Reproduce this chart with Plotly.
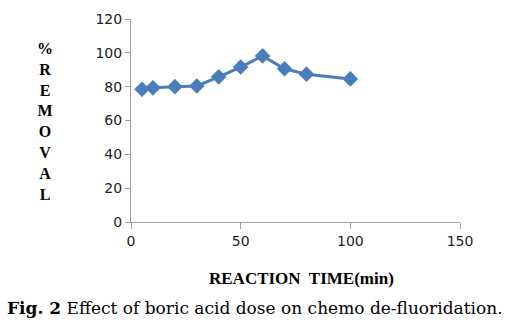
import plotly.graph_objects as go

reaction_time = [5, 10, 20, 30, 40, 50, 60, 70, 80, 100]
removal = [78.5, 79.3, 80.0, 80.4, 85.8, 91.6, 98.2, 90.6, 87.4, 84.6]
x_ticks = [0, 50, 100, 150]
y_ticks = [0, 20, 40, 60, 80, 100, 120]

fig = go.Figure()
fig.add_trace(go.Scatter(
    x=reaction_time, y=removal, mode="lines+markers",
    line=dict(color="#4A7EBB", width=3),
    marker=dict(symbol="diamond", size=12, color="#4A7EBB"),
    showlegend=False,
))

tickfont = dict(family="DejaVu Sans, sans-serif", size=14, color="#222222")
fig.update_layout(
    width=511, height=326,
    margin=dict(l=131, r=51, t=19, b=104),
    paper_bgcolor="white", plot_bgcolor="white",
    xaxis=dict(range=[0, 150], tickvals=x_ticks, showgrid=False, zeroline=False,
               showline=True, linecolor="#A0A0A0", linewidth=1,
               ticks="outside", ticklen=6, tickcolor="#A0A0A0", tickfont=tickfont),
    yaxis=dict(range=[0, 120], tickvals=y_ticks, showgrid=False, zeroline=False,
               showline=True, linecolor="#A0A0A0", linewidth=1,
               ticks="outside", ticklen=5, tickcolor="#A0A0A0", tickfont=tickfont),
)

fig.add_annotation(
    text="<b>%<br>R<br>E<br>M<br>O<br>V<br>A<br>L</b>",
    xref="paper", yref="paper", x=(45 - 131) / 329, y=(326 - 104 - 121) / 203,
    showarrow=False, align="center", yanchor="middle", xanchor="center",
    font=dict(family="Liberation Serif, serif", size=16, color="black"),
)
fig.add_annotation(
    text="<b>REACTION  TIME(min)</b>",
    xref="paper", yref="paper", x=(301 - 131) / 329, y=-(278 - 222) / 203,
    showarrow=False, xanchor="center", yanchor="middle",
    font=dict(family="Liberation Serif, serif", size=17, color="black"),
)
fig.add_annotation(
    text="<b>Fig. 2</b> Effect of boric acid dose on chemo de-fluoridation.",
    xref="paper", yref="paper", x=(255 - 131) / 329, y=-(308 - 222) / 203,
    showarrow=False, xanchor="center", yanchor="middle",
    font=dict(family="DejaVu Serif, serif", size=17, color="black"),
)

fig.write_html("out.html")
